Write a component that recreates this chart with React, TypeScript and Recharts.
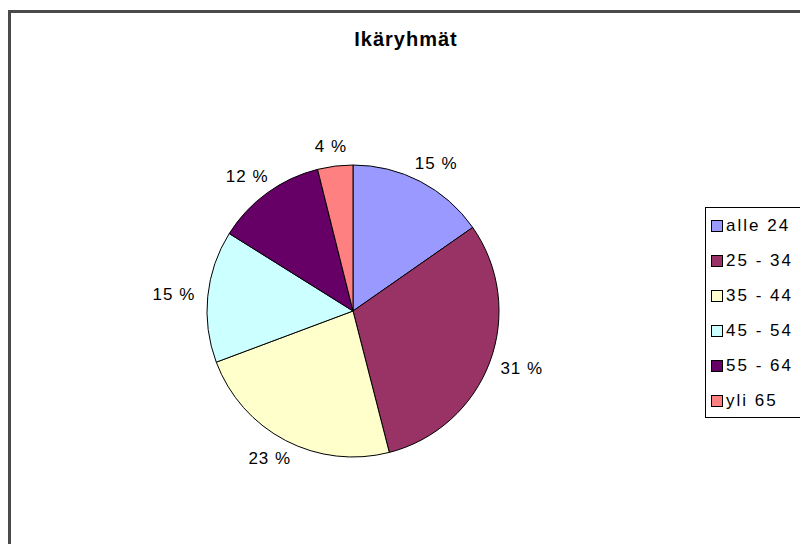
import { PieChart, Pie, Cell, Legend } from 'recharts';

const ageGroups = ['alle 24', '25 - 34', '35 - 44', '45 - 54', '55 - 64', 'yli 65'];
const shares = [15.3, 30.7, 23.3, 14.6, 12.2, 3.9];
const sliceColors = ['#9999FF', '#993366', '#FFFFCC', '#CCFFFF', '#660066', '#FF8080'];

const data = ageGroups.map((name, i) => ({ name, value: shares[i] }));

const FONT = '"Liberation Sans", Arial, sans-serif';
const RAD = Math.PI / 180;

const renderLabel = (props: any) => {
    const { cx, cy, midAngle, outerRadius, percent } = props;
    const cos = Math.cos(-midAngle * RAD);
    const sin = Math.sin(-midAngle * RAD);
    const r = outerRadius + 13;
    const x = cx + r * cos + 21 * cos;
    const y = cy + r * sin + 7 * sin;
    return (
        <text
            x={x}
            y={y}
            textAnchor="middle"
            dominantBaseline="central"
            fontFamily={FONT}
            fontSize={17}
            letterSpacing={1}
            fill="#000"
        >
            {`${Math.round(percent * 100)} %`}
        </text>
    );
};

const LegendBox = () => (
    <div
        style={{
            width: 110,
            height: 211,
            border: '1px solid #000',
            background: '#fff',
            fontFamily: FONT,
            fontSize: 17,
            letterSpacing: 2,
            color: '#000',
            boxSizing: 'border-box',
        }}
    >
        {ageGroups.map((name, i) => (
            <div key={name} style={{ height: 35, display: 'flex', alignItems: 'center', paddingLeft: 5 }}>
                <span
                    style={{
                        width: 10,
                        height: 10,
                        background: sliceColors[i],
                        border: '1px solid #000',
                        marginRight: 3,
                        flex: 'none',
                    }}
                />
                <span style={{ whiteSpace: 'nowrap' }}>{name}</span>
            </div>
        ))}
    </div>
);

export default function App() {
    return (
        <div style={{ position: 'fixed', left: 0, top: 0, width: 800, height: 544, background: '#fff', overflow: 'hidden' }}>
            <div
                style={{
                    position: 'absolute',
                    left: 8,
                    top: 10,
                    width: 820,
                    height: 560,
                    border: '3px solid #4a4a4a',
                    boxSizing: 'border-box',
                }}
            />
            <div
                style={{
                    position: 'absolute',
                    left: 0,
                    width: 812,
                    top: 29,
                    textAlign: 'center',
                    fontFamily: FONT,
                    fontWeight: 'bold',
                    fontSize: 20,
                    lineHeight: '20px',
                    letterSpacing: 1,
                }}
            >
                Ikäryhmät
            </div>
            <div style={{ position: 'absolute', left: 0, top: 0 }}>
                <PieChart width={800} height={544} margin={{ top: 0, right: 0, bottom: 0, left: 0 }}>
                    <Pie
                        data={data}
                        dataKey="value"
                        nameKey="name"
                        cx={353}
                        cy={311}
                        outerRadius={146}
                        startAngle={90}
                        endAngle={-270}
                        stroke="#000"
                        strokeWidth={1}
                        label={renderLabel}
                        labelLine={false}
                        isAnimationActive={false}
                    >
                        {data.map((d, i) => (
                            <Cell key={d.name} fill={sliceColors[i]} />
                        ))}
                    </Pie>
                    <Legend
                        layout="vertical"
                        align="right"
                        verticalAlign="middle"
                        content={() => <LegendBox />}
                        wrapperStyle={{ left: 705, top: 207, width: 110, height: 211 }}
                    />
                </PieChart>
            </div>
        </div>
    );
}
